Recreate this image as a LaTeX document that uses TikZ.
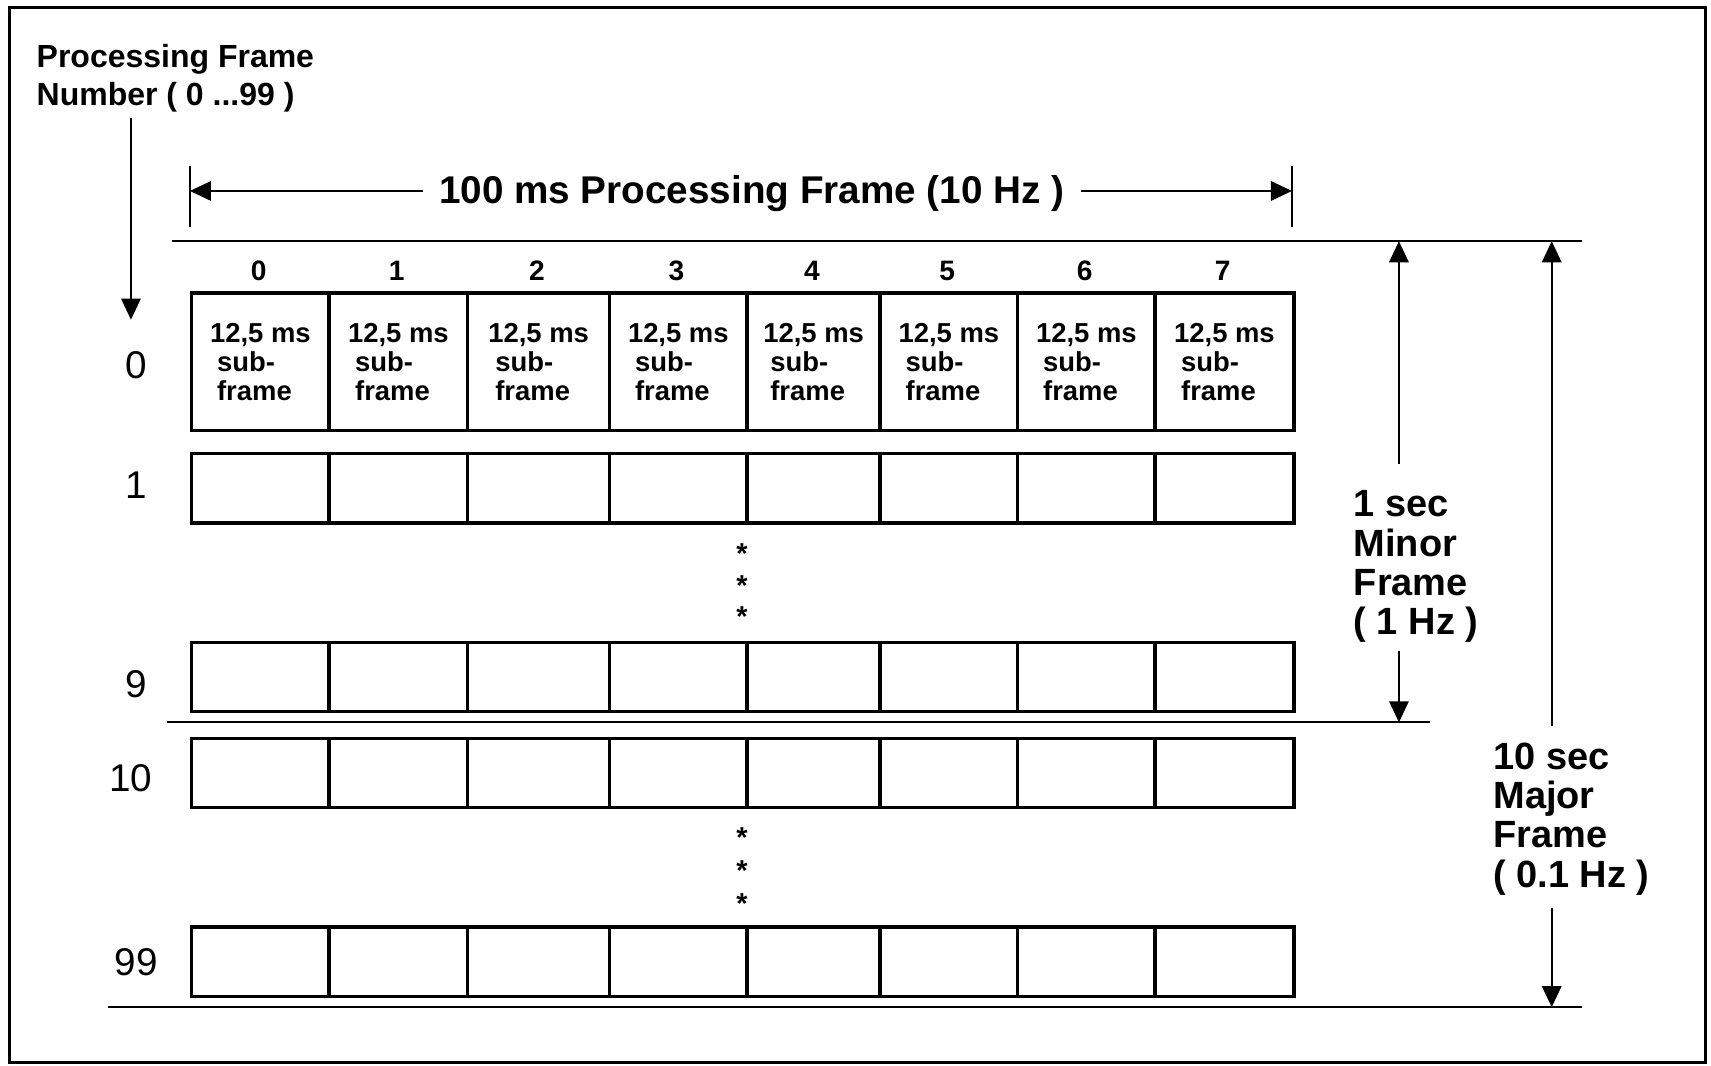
\documentclass[tikz,border=0pt]{standalone}
\usepackage{fontspec}
\setmainfont{Liberation Sans}
\usetikzlibrary{arrows.meta,positioning}
\tikzset{
    % One 12,5 ms sub-frame slot
    slot/.style={
        rectangle, draw=black, line width=1pt,
        minimum height=0.693cm,
        inner sep=0pt, anchor=north west,
        font=\fontsize{7.8}{8.3}\selectfont\bfseries, align=left
    },
    % Slot of the first frame, with its text
    tallslot/.style={slot, minimum height=1.375cm},
    % Labels
    rownum/.style={font=\fontsize{11}{13}\selectfont},
    colnum/.style={font=\fontsize{8}{10}\selectfont\bfseries},
    sidelabel/.style={
        anchor=north west, inner sep=0pt, align=left,
        font=\fontsize{10.8}{11.2}\selectfont\bfseries
    },
    starmark/.style={font=\fontsize{8.2}{8.2}\selectfont\bfseries, inner sep=0pt},
    % Rules and dimension arrows
    rule/.style={line width=0.6pt},
    dimarrow/.style={line width=0.6pt, -{Triangle[length=6pt,width=5.5pt]}},
}

\begin{document}
\begin{tikzpicture}[x=0.010912cm,y=-0.010912cm]
  \useasboundingbox (0,0) rectangle (1568,976);
  \draw[line width=0.9pt] (9,7) rectangle (1563,974);

  % frame number label
  \node[sidelabel, font=\fontsize{9.1}{10.8}\selectfont\bfseries] (pfn) at (33,40)
       {Processing Frame\\Number ( 0 ...99 )};
  \coordinate (pfntail) at (120,108);
  \coordinate (pfnhead) at (120,293);
  \draw[dimarrow] (pfntail) -- (pfnhead);

  % 100 ms processing frame
  \coordinate (tl) at (174,175);
  \coordinate (tr) at (1184,175);
  \draw[rule] (174,152) -- (174,208);
  \draw[rule] (1184,152) -- (1184,208);
  \node[font=\fontsize{11}{13}\selectfont\bfseries, inner sep=4.5pt] (ptitle) at (689,177)
       {100 ms Processing Frame (10 Hz )};
  \draw[dimarrow] (ptitle.west |- tl) -- (tl);
  \draw[dimarrow] (ptitle.east |- tr) -- (tr);

  % rules
  \coordinate (rtopL) at (158,221);
  \coordinate (rtopR) at (1450,221);
  \coordinate (rmidL) at (153,662);
  \coordinate (rmidR) at (1310,662);
  \coordinate (rbotL) at (99,923);
  \coordinate (rbotR) at (1450,923);
  \draw[rule] (rtopL) -- (rtopR);
  \draw[rule] (rmidL) -- (rmidR);
  \draw[rule] (rbotL) -- (rbotR);

  % sub-frame numbers and first frame
  \foreach \x/\w [count=\i from 0] in {174/126, 300/127, 427/130, 557/126,
                                        683/122, 805/126, 931/126, 1057/127} {
    \node[colnum] (k\i) at ({\x+\w/2},248) {\i};
    \node[tallslot, minimum width={\w*0.010912cm}] (s0-\i) at (\x,267)
         {12,5 ms\\\hspace*{2pt}sub-\\\hspace*{2pt}frame};
  }
  \node[rownum] (n0) at (125,335) {0};

  % the other frames
  \foreach \r/\top/\lx/\ly in {1/414/125/445, 9/587/125/627, 10/675/120/713, 99/848/125/882} {
    \foreach \x/\w [count=\i from 0] in {174/126, 300/127, 427/130, 557/126,
                                          683/122, 805/126, 931/126, 1057/127}
      \node[slot, minimum width={\w*0.010912cm}] (s\r-\i) at (\x,\top) {};
    \node[rownum] (n\r) at (\lx,\ly) {\r};
  }

  % skipped frames
  \foreach \y [count=\i] in {507,537,565}
    \node[starmark] (skipa\i) at (680,\y) {*};
  \foreach \y [count=\i] in {768,798,828}
    \node[starmark] (skipb\i) at (680,\y) {*};

  % 1 sec minor frame
  \node[sidelabel] (minor) at (1240,449) {1 sec\\Minor\\Frame\\( 1 Hz )};
  \coordinate (mintail) at (1282,425);
  \coordinate (minhead) at (1282,221);
  \coordinate (mindtail) at (1282,597);
  \coordinate (mindhead) at (1282,662);
  \draw[dimarrow] (mintail) -- (minhead);
  \draw[dimarrow] (mindtail) -- (mindhead);

  % 10 sec major frame
  \node[sidelabel] (major) at (1368,680) {10 sec\\Major\\Frame\\( 0.1 Hz )};
  \coordinate (majtail) at (1422,665);
  \coordinate (majhead) at (1422,221);
  \coordinate (majdtail) at (1422,832);
  \coordinate (majdhead) at (1422,923);
  \draw[dimarrow] (majtail) -- (majhead);
  \draw[dimarrow] (majdtail) -- (majdhead);
\end{tikzpicture}
\end{document}
